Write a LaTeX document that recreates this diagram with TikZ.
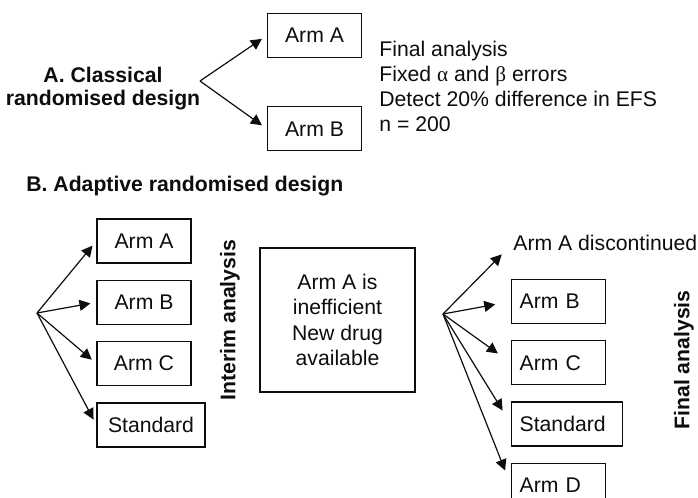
\documentclass[tikz,border=0pt]{standalone}
\usepackage{fontspec}
\setmainfont{Liberation Sans}
\newfontfamily\symbolgreek{Liberation Serif}
\usetikzlibrary{arrows.meta,positioning}

\begin{document}
\begin{tikzpicture}
[x=0.5pt, y=-0.5pt, font=\fontsize{10.6}{12.5}\selectfont, color=black!95,
% STYLES
>={Triangle[length=5.5pt,width=5.5pt]},
% The arm style is used for the boxes with centred text
arm/.style={rectangle, draw, line width=0.65pt, minimum width=47pt, minimum height=22pt, inner xsep=5.5pt},
% The latearm style is used for the arms kept after the interim analysis
latearm/.style={rectangle, draw, line width=0.65pt, text width=39pt, align=left, minimum height=22pt, inner xsep=4pt, inner ysep=0pt},
% Titles of the two designs
design/.style={font=\fontsize{10.6}{11.5}\selectfont\bfseries, align=center, inner sep=0pt},
% Vertical labels of the analyses
analysis/.style={font=\fontsize{10.6}{12.5}\selectfont\bfseries, rotate=90, inner sep=0pt},
link/.style={->, line width=0.6pt, shorten >=3pt}]

\useasboundingbox (0,0) rectangle (698,498);

% A. classical design
\node [design] (classical) at (103,88.5) {A. Classical\\randomised design};
\node [arm] (a-arm-a) at (314.5,35.5) {Arm A};
\node [arm, below=24pt of a-arm-a] (a-arm-b) {Arm B};
\coordinate (a-split) at (200,81);
\node [align=left, anchor=west, inner sep=0pt] (a-final) at (379,86) {Final analysis\\
Fixed {\symbolgreek α} and {\symbolgreek β} errors\\
Detect 20\% difference in EFS\\
n = 200};

% B. adaptive design, before the interim analysis
\node [design, anchor=west] (adaptive) at (26,186) {B. Adaptive randomised design};
\node [arm] (b-arm-a) at (144,241) {Arm A};
\node [arm, below=8pt of b-arm-a] (b-arm-b) {Arm B};
\node [arm, below=8pt of b-arm-b] (b-arm-c) {Arm C};
\node [arm, below=8pt of b-arm-c.south west, anchor=north west] (b-standard) {Standard};
\coordinate (b-split) at (37,313);

\node [analysis] (interim) at (230,320) {Interim analysis};
\node [rectangle, draw, line width=0.65pt, minimum width=77.5pt, minimum height=72pt, align=center, font=\fontsize{10.6}{12.8}\selectfont] (decision) at (337.5,320) {Arm A is\\inefficient\\New drug\\available};

% after the interim analysis
\coordinate (c-split) at (443,314);
\node [anchor=west, inner sep=0pt] (c-arm-a) at (513,243) {Arm A discontinued};
\node [latearm, anchor=west] (c-arm-b) at (511,301.5) {Arm B};
\node [latearm, below=8pt of c-arm-b.south west, anchor=north west] (c-arm-c) {Arm C};
\node [latearm, text width=47.5pt, below=8pt of c-arm-c.south west, anchor=north west] (c-standard) {Standard};
\node [latearm, below=8pt of c-standard.south west, anchor=north west] (c-arm-d) {Arm D};
\node [analysis] (final) at (684,360) {Final analysis};

% Draw the randomisation arrows
\path [link]
(a-split) edge (a-arm-a.west)
(a-split) edge (a-arm-b.west)
(b-split) edge (b-arm-a.west)
(b-split) edge (b-arm-b.west)
(b-split) edge (b-arm-c.west)
(b-split) edge (b-standard.west);

\path [link, shorten >=8pt]
(c-split) edge (c-arm-a.west)
(c-split) edge (c-arm-b.west)
(c-split) edge (c-arm-c.west)
(c-split) edge (c-standard.west)
(c-split) edge (c-arm-d.west);

\end{tikzpicture}
\end{document}
